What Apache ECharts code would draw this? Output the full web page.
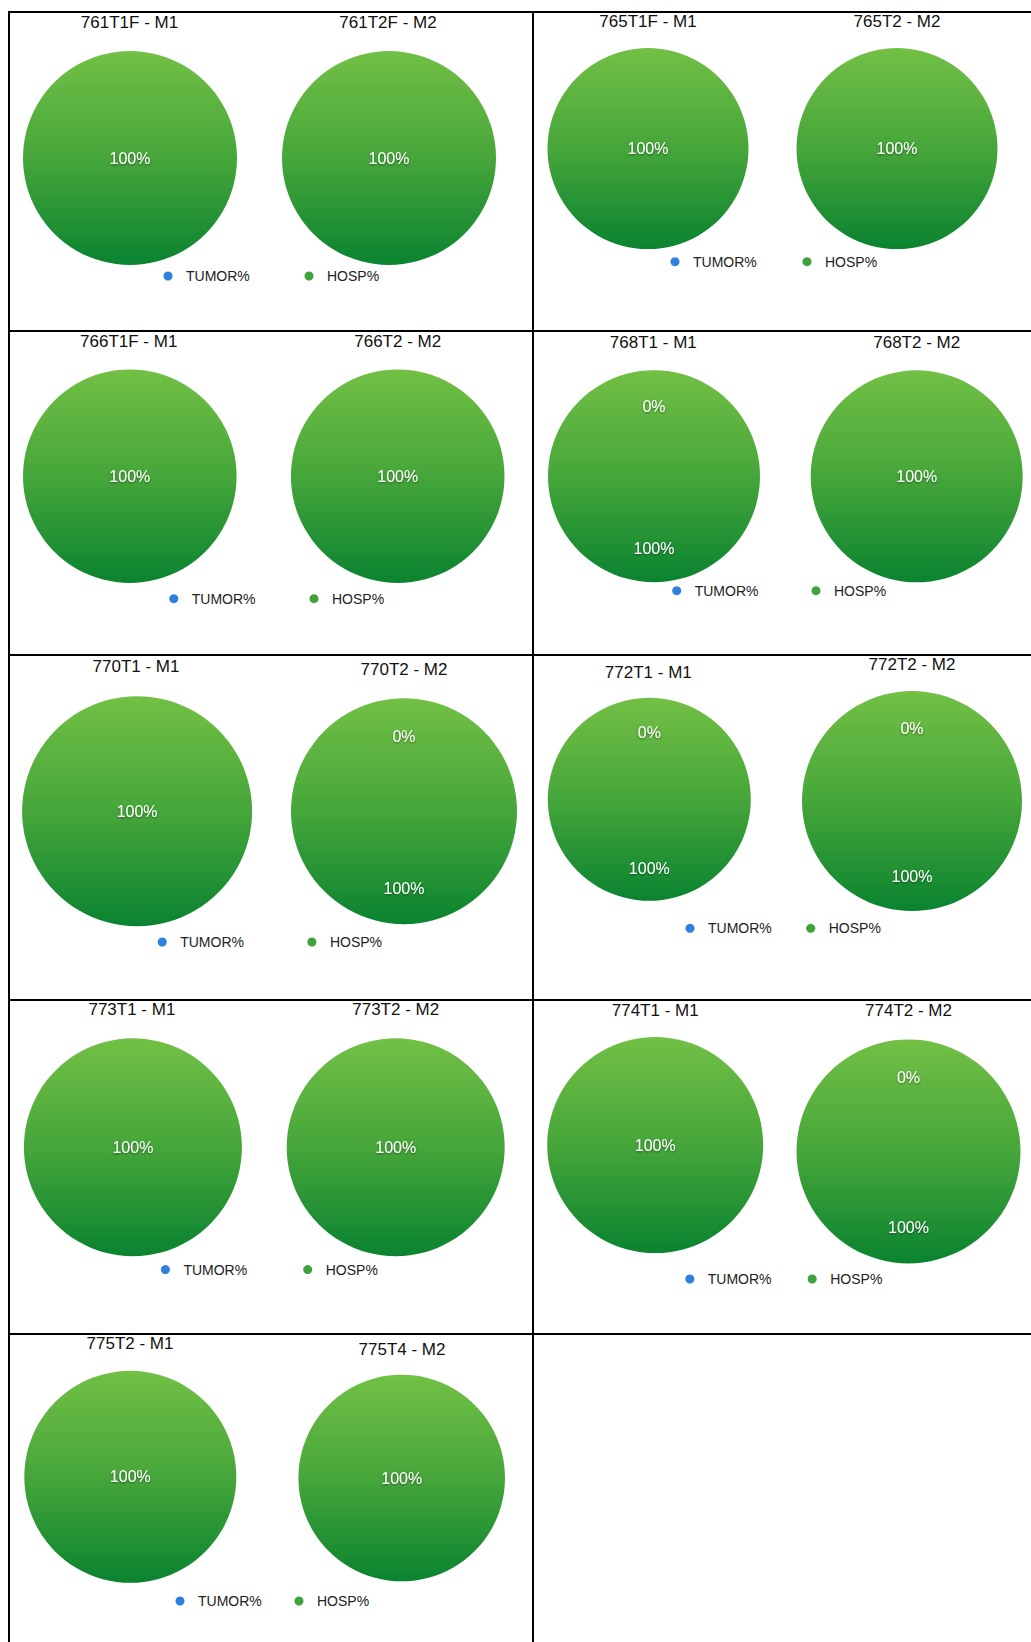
<!DOCTYPE html>
<html>
<head>
<meta charset="utf-8">
<title>TUMOR% / HOSP%</title>
<script src="https://cdn.jsdelivr.net/npm/echarts@6/dist/echarts.min.js"></script>
<style>
  html, body { margin: 0; padding: 0; background: #ffffff; }
  #chart { width: 1031px; height: 1642px; }
</style>
</head>
<body>
<div id="chart"></div>
<script>
// ---- data -------------------------------------------------------------
const sampleTitles = [
  '761T1F - M1', '761T2F - M2', '765T1F - M1', '765T2 - M2',
  '766T1F - M1', '766T2 - M2',  '768T1 - M1',  '768T2 - M2',
  '770T1 - M1',  '770T2 - M2',  '772T1 - M1',  '772T2 - M2',
  '773T1 - M1',  '773T2 - M2',  '774T1 - M1',  '774T2 - M2',
  '775T2 - M1',  '775T4 - M2'
];
// null = no tumour value recorded for that sample
const tumorPct = [null, null, null, null, null, null, 0, null, null, 0, 0, 0, null, null, null, 0, null, null];
const hospPct  = [100, 100, 100, 100, 100, 100, 100, 100, 100, 100, 100, 100, 100, 100, 100, 100, 100, 100];
const legendNames = ['TUMOR%', 'HOSP%'];

// ---- layout (pixels) ---------------------------------------------------
// [pie centre x, pie centre y, radius, title centre x, title centre y]
const pieLayout = [
  [130,   158,    107,   129.5, 22],
  [389,   158,    107,   388,   22],
  [648,   148.6,  100.5, 648,   21],
  [897,   148.6,  100.5, 897,   21],
  [129.8, 476.2,  106.8, 128.7, 341.5],
  [397.7, 476.2,  106.8, 397.7, 341.5],
  [654,   476.2,  106,   653.3, 342],
  [916.7, 476.3,  106,   916.7, 342],
  [137.1, 811.2,  115,   136,   666],
  [404,   811.2,  113,   404,   669],
  [649.3, 799.3,  101.5, 648.3, 672.5],
  [912,   801,    110,   912,   664.5],
  [132.9, 1147.2, 109,   131.9, 1009],
  [395.7, 1147.2, 109,   395.7, 1009],
  [655.2, 1145.1, 108,   655.2, 1010],
  [908.5, 1151.4, 112,   908.5, 1010],
  [130.3, 1476.8, 106,   130,   1343],
  [401.7, 1478,   103.3, 402,   1349]
];
// [TUMOR% dot x, HOSP% dot x, dot y] for each panel
const legendLayout = [
  [168, 309, 276], [675, 807, 261.7],
  [173.8, 314, 598.7], [676.7, 816, 590.7],
  [162.2, 311.9, 942], [690, 810.7, 928.3],
  [165.4, 307.7, 1269.6], [689.8, 812.2, 1279],
  [180, 299, 1601]
];
const rowLines = [12, 331, 655, 1000, 1334];
const colLines = [9, 533];

// ---- styles ------------------------------------------------------------
const FONT = '"Liberation Sans", Arial, Helvetica, sans-serif';
const greenFill = {
  type: 'linear', x: 0, y: 0, x2: 0, y2: 1,
  colorStops: [
    { offset: 0, color: '#72c045' },
    { offset: 0.5, color: '#46a63a' },
    { offset: 1, color: '#0a8330' }
  ]
};
const blueFill = {
  type: 'linear', x: 0, y: 0, x2: 0, y2: 1,
  colorStops: [
    { offset: 0, color: '#5aa2ee' },
    { offset: 1, color: '#1f6fcc' }
  ]
};
const legendColors = { 'TUMOR%': '#2f80dc', 'HOSP%': '#3fa33b' };

// ---- series ------------------------------------------------------------
const series = sampleTitles.map((name, i) => {
  const [cx, cy, r] = pieLayout[i];
  const twoSlices = tumorPct[i] !== null;
  const data = [];
  if (twoSlices) {
    data.push({ name: legendNames[0], value: tumorPct[i], itemStyle: { color: blueFill } });
  }
  data.push({
    name: legendNames[1],
    value: hospPct[i],
    itemStyle: { color: greenFill },
    label: twoSlices ? {} : { position: 'center' }
  });
  const s = {
    type: 'pie',
    name: name,
    center: [cx, cy],
    radius: r,
    startAngle: 90,
    clockwise: true,
    avoidLabelOverlap: false,
    itemStyle: { borderWidth: 0 },
    label: {
      show: true,
      position: 'inside',
      formatter: p => p.value + '%',
      color: '#ffffff',
      fontSize: 16,
      fontFamily: FONT,
      textShadowColor: 'rgba(0,0,0,0.45)',
      textShadowBlur: 2,
      textShadowOffsetY: 1
    },
    labelLine: { show: false },
    emphasis: { scale: false },
    data: data
  };
  if (twoSlices) {
    // push the slice labels a little further out from the centre
    s.labelLayout = p => ({ dy: p.dataIndex === 0 ? -0.132 * r : 0.157 * r });
  }
  return s;
});

// ---- legends -----------------------------------------------------------
const legends = [];
legendLayout.forEach(([tx, hx, y]) => {
  [[legendNames[0], tx], [legendNames[1], hx]].forEach(([name, x]) => {
    legends.push({
      data: [{ name: name, itemStyle: { color: legendColors[name] } }],
      left: x - 4.5,
      top: y - 7,
      padding: 0,
      icon: 'circle',
      itemWidth: 26,
      itemHeight: 9,
      textStyle: { fontSize: 14, color: '#222222', fontFamily: FONT, lineHeight: 14 }
    });
  });
});

// ---- panel lines and titles -------------------------------------------
const graphics = [];
rowLines.forEach(y => graphics.push({
  type: 'line',
  shape: { x1: colLines[0] - 1, y1: y, x2: 1031, y2: y },
  style: { stroke: '#000000', lineWidth: 2 }
}));
colLines.forEach(x => graphics.push({
  type: 'line',
  shape: { x1: x, y1: rowLines[0] - 1, x2: x, y2: 1642 },
  style: { stroke: '#000000', lineWidth: 2 }
}));
sampleTitles.forEach((t, i) => graphics.push({
  type: 'text',
  x: pieLayout[i][3],
  y: pieLayout[i][4],
  style: {
    text: t, fill: '#111111', fontSize: 17, fontFamily: FONT,
    align: 'center', verticalAlign: 'middle'
  }
}));

const chart = echarts.init(document.getElementById('chart'), null, { renderer: 'svg' });
chart.setOption({
  backgroundColor: '#ffffff',
  animation: false,
  legend: legends,
  graphic: graphics,
  series: series
});
</script>
</body>
</html>
